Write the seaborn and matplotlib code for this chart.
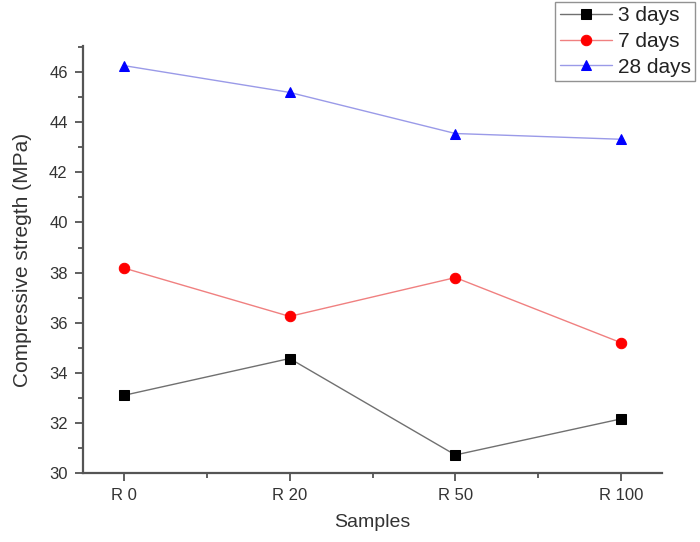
import matplotlib
matplotlib.use("Agg")
import matplotlib.pyplot as plt
import seaborn as sns
import pandas as pd
from matplotlib.ticker import MultipleLocator

samples = ["R 0", "R 20", "R 50", "R 100"]
days3 = [33.1, 34.57, 30.72, 32.16]
days7 = [38.18, 36.25, 37.8, 35.2]
days28 = [46.26, 45.19, 43.55, 43.32]

sns.set_style("ticks")
plt.rcParams['font.family'] = ['Liberation Sans', 'DejaVu Sans']

fig = plt.figure(figsize=(7, 5.42), dpi=100)
ax = fig.add_axes([0.1186, 0.1273, 0.9457 - 0.1186, 0.915 - 0.1273])

series = [
    ("3 days", days3, "#707070", "black", "s", 6.5),
    ("7 days", days7, "#f08080", "red", "o", 7.5),
    ("28 days", days28, "#9a9ae8", "blue", "^", 7.5),
]
for name, vals, lc, mc, mk, ms in series:
    df = pd.DataFrame({"Samples": samples, "v": vals})
    sns.lineplot(data=df, x="Samples", y="v", ax=ax, color=lc, marker=mk,
                 markersize=ms, markerfacecolor=mc, markeredgecolor=mc,
                 linewidth=1.0, label=name)

ax.set_xlim(-0.247, 3.247)
ax.set_ylim(30, 47.04)
ax.yaxis.set_major_locator(MultipleLocator(2))
ax.yaxis.set_minor_locator(MultipleLocator(1))
ax.xaxis.set_minor_locator(MultipleLocator(0.5))
ax.tick_params(axis='both', which='major', direction='out', length=6, width=1.2,
               labelsize=12, colors='#444444', labelcolor='#333333', pad=5)
ax.tick_params(axis='both', which='minor', direction='out', length=3.5, width=1.2, colors='#444444')
for s in ["top", "right"]:
    ax.spines[s].set_visible(False)
for s in ["left", "bottom"]:
    ax.spines[s].set_linewidth(1.6)
    ax.spines[s].set_color('#555555')

ax.set_xlabel("Samples", fontsize=14, color='#333333', labelpad=8)
ax.set_ylabel("Compressive stregth (MPa)", fontsize=15, color='#333333', labelpad=12)

ax.legend_.remove()
handles, labels = ax.get_legend_handles_labels()
leg = fig.legend(handles, labels, loc='upper right', bbox_to_anchor=(0.996, 1.0),
                 fontsize=15, frameon=True, fancybox=False, edgecolor='#777777',
                 handlelength=2.5, borderpad=0.2, labelspacing=0.32, handletextpad=0.3,
                 borderaxespad=0.1)
leg.get_frame().set_linewidth(1.0)
for t in leg.get_texts():
    t.set_color('#222222')

fig.savefig("out.png", dpi=100)
